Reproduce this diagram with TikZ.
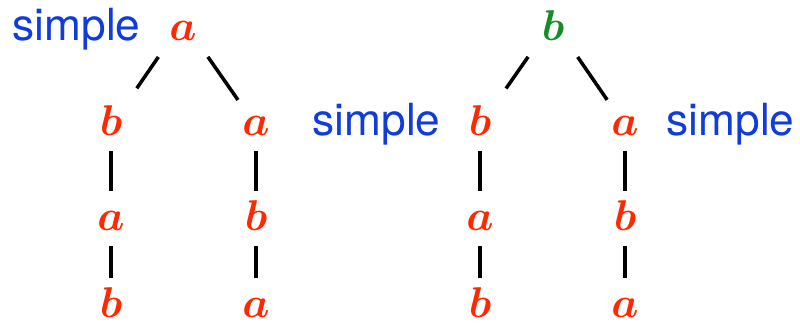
\RequirePackage{fix-cm}
\documentclass[tikz,border=0pt]{standalone}
\usepackage{amsmath}
\usepackage{fontspec}
\newfontfamily\heros{TeX Gyre Heros}
\definecolor{leafred}{RGB}{255,40,0}
\definecolor{rootgreen}{RGB}{20,140,40}
\definecolor{tagblue}{RGB}{16,60,220}
\begin{document}
\begin{tikzpicture}[x=0.02cm,y=-0.02cm,
    sym/.style={inner sep=0pt,anchor=base,text height=0.37cm,text depth=0pt,
        font=\fontsize{24.5}{28}\selectfont,text=leafred},
    tag/.style={inner sep=0pt,anchor=base west,text=tagblue,
        font=\heros\fontsize{25.2}{28}\selectfont},
    stem/.style={line width=2pt,shorten <=0.32cm,shorten >=0.4cm},
    branch/.style={line width=2pt,shorten <=0.87cm}]
    \useasboundingbox (0,0) rectangle (800,326);
    % left tree
    \node[sym] (L0) at (183,40) {$\boldsymbol{a}$};
    \node[sym] (L11) at (111,135) {$\boldsymbol{b}$};
    \node[sym] (L12) at (111,230) {$\boldsymbol{a}$};
    \node[sym] (L13) at (111,317) {$\boldsymbol{b}$};
    \node[sym] (L21) at (256,135) {$\boldsymbol{a}$};
    \node[sym] (L22) at (256,230) {$\boldsymbol{b}$};
    \node[sym] (L23) at (256,317) {$\boldsymbol{a}$};
    \draw[branch,shorten >=0.91cm] (L0.north) -- (L11.center);
    \draw[branch,shorten >=0.63cm] (L0.north) -- (L21.center);
    \draw[stem] (L11.south) -- (L12.north);
    \draw[stem] (L12.south) -- (L13.north);
    \draw[stem] (L21.south) -- (L22.north);
    \draw[stem] (L22.south) -- (L23.north);
    % right tree
    \node[sym,text=rootgreen] (R0) at (553,40) {$\boldsymbol{b}$};
    \node[sym] (R11) at (480,135) {$\boldsymbol{b}$};
    \node[sym] (R12) at (480,230) {$\boldsymbol{a}$};
    \node[sym] (R13) at (480,317) {$\boldsymbol{b}$};
    \node[sym] (R21) at (625,135) {$\boldsymbol{a}$};
    \node[sym] (R22) at (625,230) {$\boldsymbol{b}$};
    \node[sym] (R23) at (625,317) {$\boldsymbol{a}$};
    \draw[branch,shorten >=0.91cm] (R0.north) -- (R11.center);
    \draw[branch,shorten >=0.63cm] (R0.north) -- (R21.center);
    \draw[stem] (R11.south) -- (R12.north);
    \draw[stem] (R12.south) -- (R13.north);
    \draw[stem] (R21.south) -- (R22.north);
    \draw[stem] (R22.south) -- (R23.north);
    % labels
    \node[tag] (s1) at (12,40) {simple};
    \node[tag] (s2) at (312,135) {simple};
    \node[tag] (s3) at (666,135) {simple};
\end{tikzpicture}
\end{document}
